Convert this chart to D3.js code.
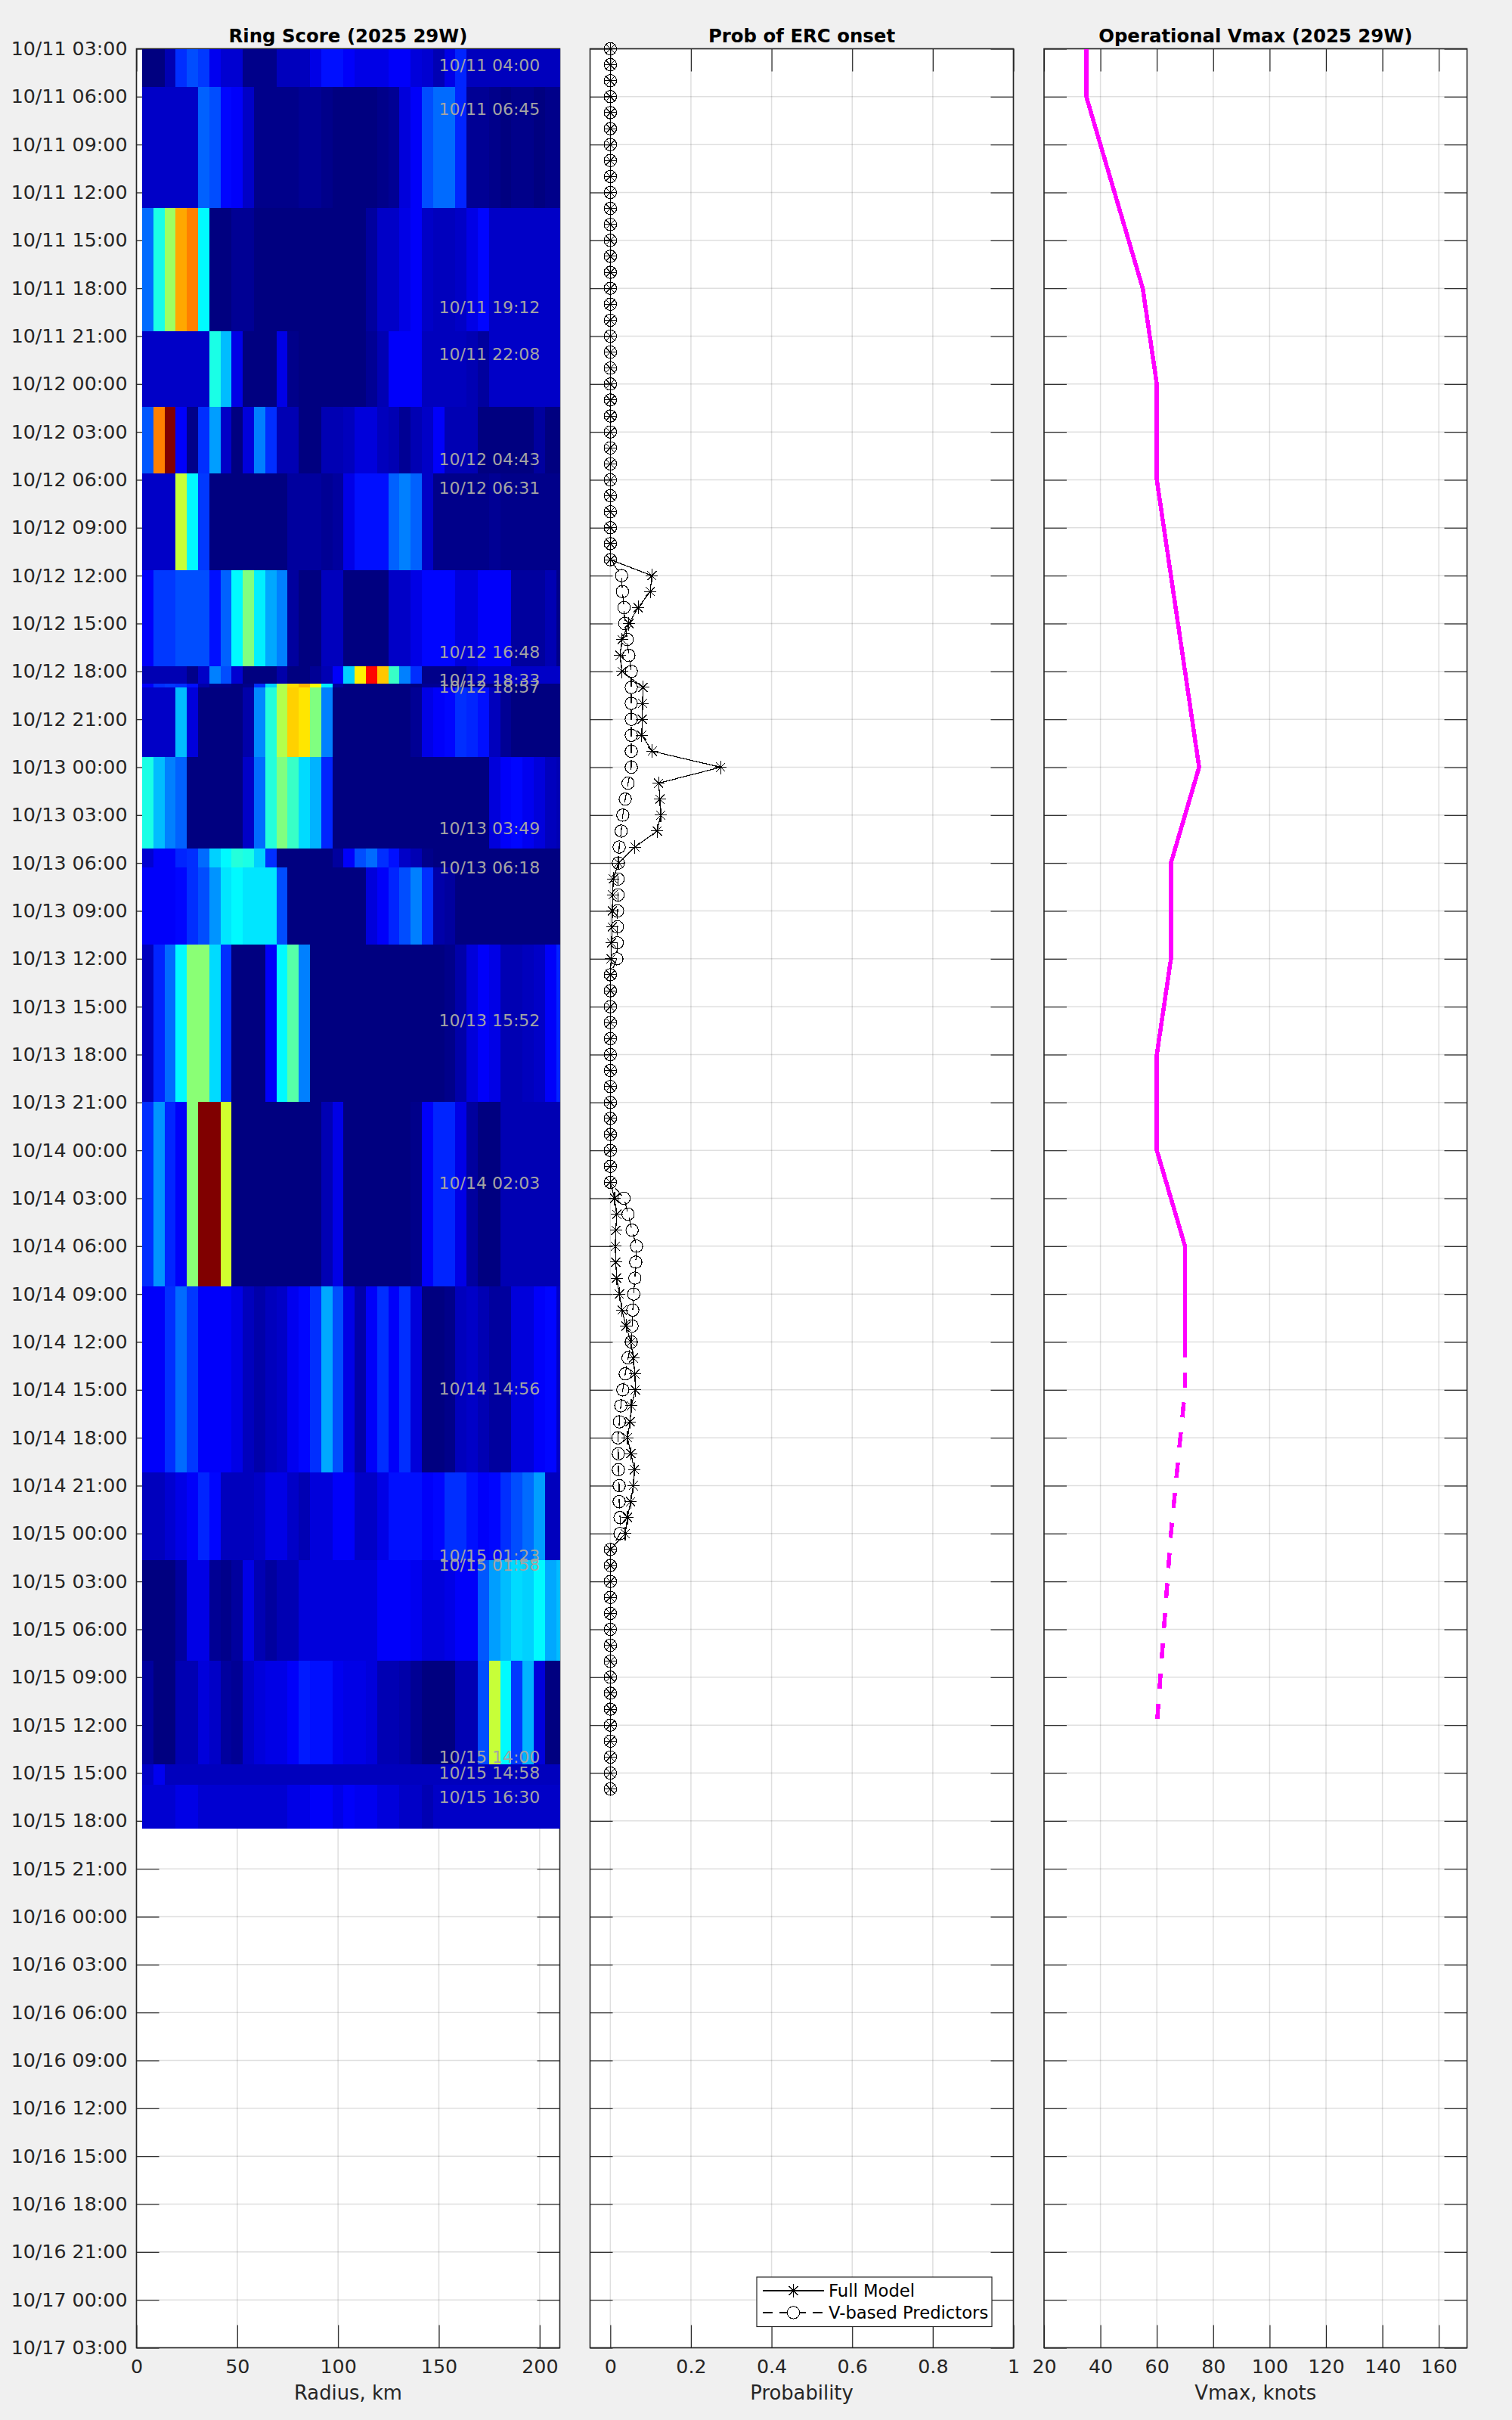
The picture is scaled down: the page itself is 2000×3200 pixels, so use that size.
<!DOCTYPE html>
<html>
<head>
<meta charset="utf-8">
<script src="https://cdn.jsdelivr.net/npm/d3@7/dist/d3.min.js"></script>
<style>
html,body{margin:0;padding:0;background:#f0f0f0;}
svg{display:block;font-family:"DejaVu Sans",sans-serif;}
</style>
</head>
<body>
<svg id="chart" width="2000" height="3200"></svg>
<script>
// ---- data ----
const radiiKm = [5.55,11.1,16.65,22.2,27.75,33.3,38.85,44.4,49.95,55.5,61.05,66.6,72.15,77.7,83.25,88.8,94.35,99.9,105.45,111,116.55,122.1,127.65,133.2,138.75,144.3,149.85,155.4,160.95,166.5,172.05,177.6,183.15,188.7,194.25,199.8,205.35,210.9];
// edges of the image rows, hours after 10/11 03:00
const rowEdgesH = [0,2.375,9.975,17.67,22.42,26.62,32.66,38.67,39.75,39.98,44.38,50.07,51.28,56.1,65.96,77.52,89.15,94.68,100.97,107.47,108.74,111.5];
// ring score per image row, on the 0-100 colour scale
const scan01 = [0,0,5,17,20,18,11,8,8,1,1,1,6,6,6,10,14,14,12,10,10,10,12,12,9,8,5,10,16,6,6,6,6,6,6,6,6,6];
const scan02 = [7,7,7,7,7,22,20,13,12,7,1,1,1,1,2,2,1,0,0,0,0,1,2,9,12,20,23,23,16,2,2,1,0,1,1,0,1,1];
const scan03 = [23,40,53,71,75,37,0,0,2,2,0,0,0,0,0,0,0,0,0,0,3,7,7,10,12,7,6,6,7,10,13,7,7,7,7,7,7,7];
const scan04 = [7,7,7,7,7,7,40,31,10,0,0,0,10,1,0,0,0,0,0,0,2,5,12,12,12,6,6,6,6,5,3,7,7,7,7,7,7,7];
const scan05 = [21,75,100,12,1,17,28,7,0,9,25,17,5,5,0,0,5,5,6,9,9,6,5,2,5,7,12,5,5,5,0,0,0,0,0,3,0,0];
const scan06 = [7,7,7,57,37,18,0,0,0,0,0,0,0,3,3,3,2,3,10,14,14,14,22,25,22,7,1,1,1,1,1,2,1,1,1,1,1,1];
const scan07 = [12,18,18,20,20,20,14,22,37,50,36,29,25,3,0,0,6,6,0,0,0,0,7,7,10,13,13,13,9,9,12,12,12,3,3,3,5,1];
const scan08 = [5,5,5,5,1,7,25,20,8,0,0,0,4,0,0,2,5,12,33,64,87,68,43,25,17,1,1,1,1,5,7,7,7,7,7,7,7,7];
const scan09 = [12,17,18,17,14,4,1,1,0,1,17,33,55,66,70,62,36,3,0,0,0,0,0,0,0,2,2,0,0,0,0,0,0,0,0,0,0,0];
const scan10 = [7,7,7,31,9,0,0,0,0,4,26,41,55,67,65,50,25,0,0,0,0,0,0,0,2,10,12,13,17,16,14,6,2,0,0,0,0,0];
const scan11 = [40,31,25,22,0,0,0,0,0,7,23,41,50,43,34,30,16,0,0,0,0,0,0,0,0,0,0,0,0,0,0,9,12,13,11,9,6,5];
const scan12 = [8,12,12,16,17,23,33,37,41,40,33,17,0,0,0,0,0,3,12,20,23,17,14,7,5,1,0,0,0,0,0,0,0,0,0,0,0,0];
const scan13 = [12,12,12,13,17,20,27,35,37,35,35,35,20,0,0,0,0,0,0,0,9,12,16,20,25,17,4,3,0,0,0,0,0,0,0,0,0,0];
const scan14 = [6,16,23,37,51,51,34,17,0,0,0,12,37,46,25,0,0,0,0,0,0,0,0,0,0,0,0,1,4,9,12,10,5,5,6,7,12,16];
const scan15 = [17,27,16,12,51,100,100,58,0,0,0,0,0,0,0,0,5,10,0,0,0,0,0,0,1,12,16,16,10,3,0,0,5,5,5,5,5,5];
const scan16 = [12,12,17,23,18,12,12,12,10,6,4,6,7,11,13,17,29,20,10,4,12,17,12,17,9,0,0,1,6,7,5,3,3,9,9,12,13,7];
const scan17 = [6,6,8,10,12,16,13,6,6,6,7,10,10,7,5,9,9,12,12,7,7,10,14,14,14,12,13,17,17,14,12,13,17,20,23,28,6,6];
const scan18 = [0,0,0,3,10,10,2,1,3,10,5,3,5,5,9,9,9,9,9,9,9,12,12,12,11,9,9,10,12,12,21,28,31,34,33,37,29,31];
const scan19 = [3,0,0,5,5,9,7,3,2,7,9,10,10,12,15,14,14,11,10,10,9,5,5,4,2,0,0,0,5,5,20,57,37,18,30,9,0,0];
const scan20 = [7,11,6,6,6,6,6,6,6,6,6,6,6,6,6,6,6,6,6,6,6,6,6,6,6,6,6,6,6,6,6,6,6,6,6,6,6,6];
const scan21 = [8,8,8,10,10,8,8,8,8,8,8,8,8,10,10,12,12,10,12,11,11,9,9,7,7,5,7,7,7,7,7,7,7,7,7,7,7,7];
const scans = [scan01,scan02,scan03,scan04,scan05,scan06,scan07,scan08,scan09,scan10,scan11,scan12,scan13,scan14,scan15,scan16,scan17,scan18,scan19,scan20,scan21];
const scanLabels = ["10/11 04:00","10/11 06:45","10/11 19:12","10/11 22:08","10/12 04:43","10/12 06:31","10/12 16:48","10/12 18:33","10/12 18:57","10/13 03:49","10/13 06:18","10/13 15:52","10/14 02:03","10/14 14:56","10/15 01:23","10/15 01:58","10/15 14:00","10/15 14:58","10/15 16:30"];
// hourly onset probabilities, from 10/11 03:00 (hours 0-109)
const probFull = [0,0,0,0,0,0,0,0,0,0,0,0,0,0,0,0,0,0,0,0,0,0,0,0,0,0,0,0,0,0,0,0,0,
 .103,.099,.069,.046,.029,.024,.029,.081,.080,.079,.078,.104,.274,.120,.123,.125,.116,.061,.020,.0075,.006,.005,.0045,.003,.002,
 0,0,0,0,0,0,0,0,0,0,0,0,0,0,
 .0106,.0156,.0137,.0125,.0137,.0156,.0225,.029,.039,.051,.057,.061,.062,.052,.049,.0425,.051,.060,.057,.0505,.0425,.037,
 0,0,0,0,0,0,0,0,0,0,0,0,0,0,0,0];
const probV = [0,0,0,0,0,0,0,0,0,0,0,0,0,0,0,0,0,0,0,0,0,0,0,0,0,0,0,0,0,0,0,0,0,
 .028,.030,.034,.036,.042,.046,.052,.052,.052,.052,.052,.052,.052,.044,.037,.031,.027,.022,.020,.019,.019,.018,.0175,.017,.016,
 0,0,0,0,0,0,0,0,0,0,0,0,0,0,
 .034,.044,.054,.065,.063,.061,.058,.0556,.054,.052,.044,.037,.031,.026,.0225,.019,.020,.020,.022,.022,.024,.024,
 0,0,0,0,0,0,0,0,0,0,0,0,0,0,0,0];
// operational intensity
const vmaxHoursBest = [0,3,15,21,27,45,51,57,63,69,75,81];
const vmaxBest = [35,35,55,60,60,75,65,65,60,60,70,70];
const vmaxHoursFcst = [81,84,93,105];
const vmaxFcst = [70,70,65,60];
const radiusTicks = [0,50,100,150,200];
const probTicks = [0,0.2,0.4,0.6,0.8,1];
const vmaxTicks = [20,40,60,80,100,120,140,160];
const legendNames = ["Full Model","V-based Predictors"];

// ---- layout ----
const TOP = 64.5, BOTTOM = 3104.5, FS = 25.3, TICKLEN = 30, INK = "#262626";
const t0 = Date.UTC(2025,9,11,3), t1 = Date.UTC(2025,9,17,3);
const y = d3.scaleUtc().domain([t0,t1]).range([TOP,BOTTOM]);
const hourToDate = h => new Date(t0 + h*3600e3);
const parseLabel = d3.utcParse("%Y/%m/%d %H:%M");
const svg = d3.select("#chart");

const xR = d3.scaleLinear().domain([0,210]).range([180.5,740.5]);
const xP = d3.scaleLinear().domain([-0.0503,1]).range([780.5,1340.5]);
const xV = d3.scaleLinear().domain([20,170]).range([1381,1940.5]);

function panel(x, xTicks, xFmt, title, xLabel, showY){
  const [L,R] = x.range();
  const g = svg.append("g");
  g.append("rect").attr("x",L).attr("y",TOP).attr("width",R-L).attr("height",BOTTOM-TOP).attr("fill","#fff");
  const yTicks = d3.utcHour.every(3).range(new Date(t0), new Date(t1+1));
  // grid
  const grid = g.append("g").attr("stroke",INK).attr("stroke-opacity",0.15).attr("stroke-width",1.5).attr("fill","none");
  grid.selectAll("line.v").data(xTicks).join("line").attr("x1",d=>x(d)).attr("x2",d=>x(d)).attr("y1",TOP).attr("y2",BOTTOM);
  grid.selectAll("line.h").data(yTicks).join("line").attr("y1",d=>y(d)).attr("y2",d=>y(d)).attr("x1",L).attr("x2",R);
  // axes
  const fmtY = d3.utcFormat("%m/%d %H:%M");
  const styleAxis = a => { a.select(".domain").remove(); a.attr("font-family",null).attr("font-size",FS).attr("color",INK); a.selectAll("line").attr("stroke-width",1.2); };
  g.append("g").attr("transform",`translate(${L},0)`)
    .call(d3.axisLeft(y).tickValues(yTicks).tickFormat(showY?fmtY:"").tickSizeInner(-TICKLEN).tickSizeOuter(0).tickPadding(12)).call(styleAxis);
  g.append("g").attr("transform",`translate(${R},0)`)
    .call(d3.axisRight(y).tickValues(yTicks).tickFormat("").tickSizeInner(-TICKLEN).tickSizeOuter(0)).call(styleAxis);
  g.append("g").attr("transform",`translate(0,${BOTTOM})`)
    .call(d3.axisBottom(x).tickValues(xTicks).tickFormat(xFmt).tickSizeInner(-TICKLEN).tickSizeOuter(0).tickPadding(16)).call(styleAxis);
  g.append("g").attr("transform",`translate(0,${TOP})`)
    .call(d3.axisTop(x).tickValues(xTicks).tickFormat("").tickSizeInner(-TICKLEN).tickSizeOuter(0)).call(styleAxis);
  g.append("rect").attr("x",L).attr("y",TOP).attr("width",R-L).attr("height",BOTTOM-TOP)
    .attr("fill","none").attr("stroke",INK).attr("stroke-width",1.6);
  const cx = (L+R)/2;
  g.append("text").attr("x",cx).attr("y",56).attr("text-anchor","middle").attr("font-weight","bold")
    .attr("font-size",24.4).attr("fill","#000").text(title);
  g.append("text").attr("x",cx).attr("y",3173).attr("text-anchor","middle")
    .attr("font-size",25.8).attr("fill",INK).text(xLabel);
  return g;
}

// ---- ring score panel ----
const p1 = panel(xR, radiusTicks, d3.format("d"), "Ring Score (2025 29W)", "Radius, km", true);
const jet = d3.scaleLinear().domain([0,12.5,37.5,62.5,87.5,100])
  .range(["#000080","#0000ff","#00ffff","#ffff00","#ff0000","#800000"]);
const halfCell = (radiiKm[1]-radiiKm[0])/2;
const rowsG = p1.append("g").attr("shape-rendering","crispEdges");
scans.forEach((row,r)=>{
  rowsG.append("g").selectAll("rect").data(row).join("rect")
    .attr("x",(d,i)=>xR(radiiKm[i]-halfCell))
    .attr("width",(d,i)=>xR(Math.min(radiiKm[i]+halfCell,210))-xR(radiiKm[i]-halfCell))
    .attr("y",y(hourToDate(rowEdgesH[r])))
    .attr("height",y(hourToDate(rowEdgesH[r+1]))-y(hourToDate(rowEdgesH[r])))
    .attr("fill",d=>jet(d));
});
p1.append("g").selectAll("text").data(scanLabels).join("text")
  .attr("x",xR(150)).attr("y",d=>y(parseLabel("2025/"+d))).attr("dy","0.36em")
  .attr("font-size",22).attr("fill","#a4a4a4").text(d=>d);

// ---- probability panel ----
const fmtProb = d => d===0?"0":d===1?"1":d3.format(".1f")(d);
const p2 = panel(xP, probTicks, fmtProb, "Prob of ERC onset", "Probability", false);
const starPath = "M0,-9V9M-8,0H8M-6,-6L6,6M-6,6L6,-6";
const hourly = v => v.map((d,i)=>[d,i]);
const lineP = d3.line().x(d=>xP(d[0])).y(d=>y(hourToDate(d[1])));
const marks = p2.append("g").attr("shape-rendering","crispEdges");
marks.append("path").attr("d",lineP(hourly(probFull))).attr("fill","none").attr("stroke","#000").attr("stroke-width",1.2);
marks.append("path").attr("d",lineP(hourly(probV))).attr("fill","none").attr("stroke","#000").attr("stroke-width",1.2).attr("stroke-dasharray","13,9");
marks.append("g").selectAll("path").data(hourly(probFull)).join("path")
  .attr("transform",d=>`translate(${xP(d[0])},${y(hourToDate(d[1]))})`).attr("d",starPath)
  .attr("fill","none").attr("stroke","#000").attr("stroke-width",1.1);
marks.append("g").selectAll("circle").data(hourly(probV)).join("circle")
  .attr("cx",d=>xP(d[0])).attr("cy",d=>y(hourToDate(d[1]))).attr("r",8.2)
  .attr("fill","none").attr("stroke","#000").attr("stroke-width",1.1);
// legend
const lg = p2.append("g");
lg.append("rect").attr("x",1001).attr("y",3011).attr("width",311).attr("height",65.5).attr("fill","#fff").attr("stroke",INK).attr("stroke-width",1.2);
const rowsY = [3029,3058];
legendNames.forEach((n,i)=>{
  lg.append("line").attr("x1",1009).attr("x2",1090).attr("y1",rowsY[i]).attr("y2",rowsY[i]).attr("stroke","#000").attr("stroke-width",1.1)
    .attr("shape-rendering","crispEdges").attr("stroke-dasharray",i?"13,9":null);
  lg.append("text").attr("x",1096).attr("y",rowsY[i]+8).attr("font-size",22.7).attr("fill","#000").text(n);
});
lg.append("path").attr("transform",`translate(1049.5,${rowsY[0]})`).attr("d",starPath).attr("fill","none").attr("stroke","#000").attr("shape-rendering","crispEdges");
lg.append("circle").attr("cx",1049.5).attr("cy",rowsY[1]).attr("r",8.2).attr("fill","#fff").attr("stroke","#000").attr("shape-rendering","crispEdges");

// ---- vmax panel ----
const p3 = panel(xV, vmaxTicks, d3.format("d"), "Operational Vmax (2025 29W)", "Vmax, knots", false);
const lineV = d3.line().x(d=>xV(d[0])).y(d=>y(hourToDate(d[1])));
const vm = p3.append("g").attr("shape-rendering","crispEdges");
vm.append("path").attr("d",lineV(vmaxBest.map((d,i)=>[d,vmaxHoursBest[i]]))).attr("fill","none").attr("stroke","#ff00ff").attr("stroke-width",5.5).attr("stroke-linejoin","miter");
vm.append("path").attr("d",lineV(vmaxFcst.map((d,i)=>[d,vmaxHoursFcst[i]]))).attr("fill","none").attr("stroke","#ff00ff").attr("stroke-width",5.5).attr("stroke-dasharray","20,20");
</script>
</body>
</html>
